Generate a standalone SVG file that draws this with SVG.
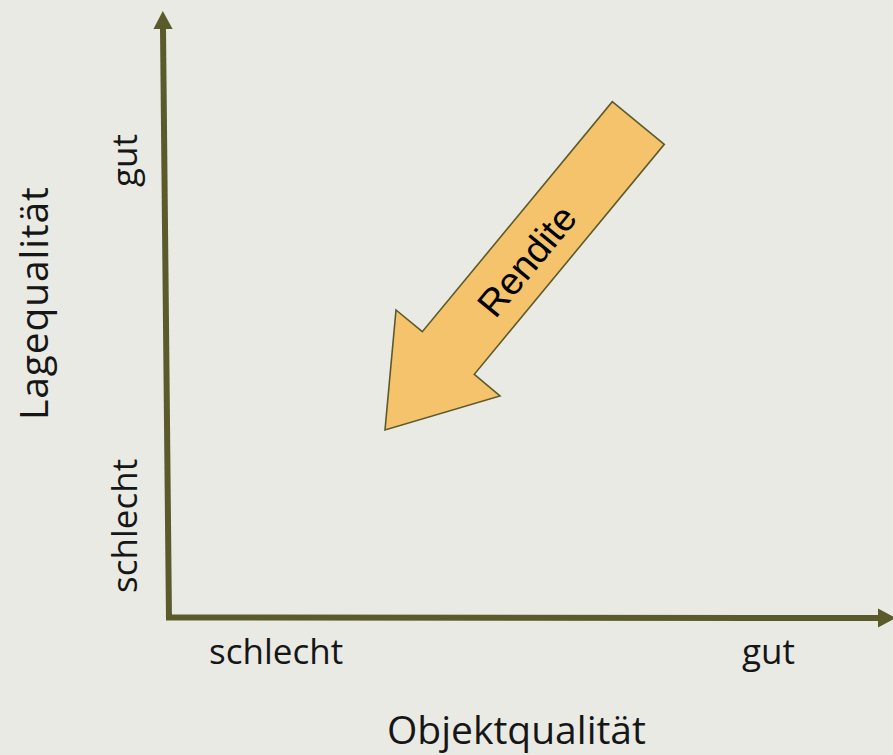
<svg xmlns="http://www.w3.org/2000/svg" width="893" height="755" viewBox="0 0 893 755">
  <style>
    .axis { stroke: #5b5a2b; stroke-width: 6; fill: none; }
    .lbl { font-family: "Open Sans", "DejaVu Sans", sans-serif; fill: #161616; }
    .small { font-size: 35px; }
    .big { font-size: 39px; }
    .arrow { fill: #f4c36b; stroke: #5b5a2b; stroke-width: 1.6; stroke-linejoin: miter; }
    .rtxt { font-family: "Liberation Sans", Arial, sans-serif; font-size: 38px; fill: #000; }
  </style>
  <defs>
    <marker id="head" markerUnits="strokeWidth" markerWidth="3" markerHeight="3.2" refX="0" refY="1.6" orient="auto" viewBox="0 0 3 3.2">
      <path d="M0,0 L3,1.6 L0,3.2 z" fill="#5b5a2b"/>
    </marker>
  </defs>
  <rect x="0" y="0" width="893" height="755" fill="#e9eae4"/>

  <g id="connectors">
    <line class="axis" x1="169" y1="620" x2="163" y2="29" marker-end="url(#head)"/>
    <line class="axis" x1="166" y1="617.5" x2="878" y2="618" marker-end="url(#head)"/>
  </g>

  <g id="rendite">
    <polygon class="arrow" points="612.3,101.7 664.3,144.3 474.3,374.3 500,396 385,430 396,310 422.3,331.7"/>
    <text class="rtxt" transform="translate(527,261) rotate(-50.4)" text-anchor="middle" dominant-baseline="central">Rendite</text>
  </g>

  <g id="y-labels">
    <text class="lbl big" transform="translate(48,420) rotate(-90)" textLength="233" lengthAdjust="spacing">Lagequalität</text>
    <text class="lbl small" transform="translate(137,187) rotate(-90)">gut</text>
    <text class="lbl small" transform="translate(137,593) rotate(-90)">schlecht</text>
  </g>

  <g id="x-labels">
    <text class="lbl small" x="209" y="664">schlecht</text>
    <text class="lbl small" x="742" y="664">gut</text>
    <text class="lbl big" x="387" y="744">Objektqualität</text>
  </g>
</svg>
